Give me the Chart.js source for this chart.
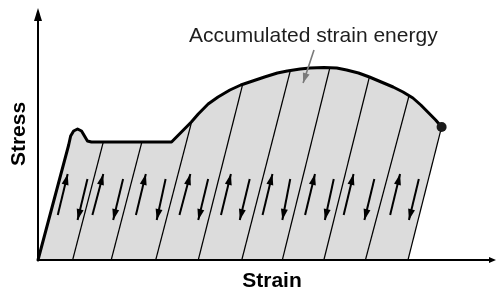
<!DOCTYPE html>
<html>
<head>
<meta charset="utf-8">
<style>
  html, body { margin: 0; padding: 0; background: #fff; }
  #wrap { width: 501px; height: 292px; }
</style>
</head>
<body>
<div id="wrap"><canvas id="stressChart"></canvas></div>

<script src="https://cdn.jsdelivr.net/npm/chart.js"></script>
<script>
// envelope of the stress-strain curve (arbitrary units)
const curveStrain = [0, 3.1, 3.3, 3.6, 4.0, 4.4, 4.7, 5.0, 5.4, 11.5, 13.5, 14.5, 15.5, 16.2, 17.2, 18.2, 19.4, 20.5, 21.7, 22.9, 24.2, 25.2, 26.5, 27.5, 28.9, 30.2, 31.2, 32.4, 33.5, 34.7, 35.9, 36.9, 37.9, 38.7, 39.5, 40.2, 40.8];
const curveStress = [0, 11.5, 12.4, 12.9, 13.1, 12.9, 12.4, 11.9, 11.8, 11.8, 11.8, 12.8, 13.8, 14.6, 15.6, 16.3, 17.0, 17.5, 17.9, 18.3, 18.7, 18.9, 19.1, 19.2, 19.25, 19.2, 19.0, 18.7, 18.3, 17.8, 17.3, 16.8, 16.2, 15.5, 14.7, 14.0, 13.3];

// unloading lines: foot on the strain axis, top on the envelope
const unloadFoot = [3.5, 7.4, 11.9, 16.2, 20.6, 24.7, 28.9, 33.1, 37.4];
const unloadTopStrain = [6.6, 10.5, 15.5, 20.7, 25.5, 29.5, 33.5, 37.5, 40.8];
const unloadTopStress = [11.8, 11.8, 13.7, 17.6, 18.9, 19.2, 18.3, 16.4, 13.3];

// loading / unloading arrows in each strip
const upTailStrain = [2.0, 5.5, 9.9, 14.3, 18.5, 22.7, 27.0, 30.9, 35.6];
const upTipStrain = [3.0, 6.6, 10.9, 15.4, 19.5, 23.7, 28.0, 31.9, 36.6];
const upTailStress = 4.5;
const upTipStress = 8.6;
const downTailStrain = [5.0, 8.6, 12.9, 17.2, 21.4, 25.5, 29.9, 34.0, 38.5];
const downTipStrain = [4.0, 7.6, 12.0, 16.2, 20.4, 24.7, 29.0, 33.0, 37.5];
const downTailStress = 8.1;
const downTipStress = 4.0;

// callout pointing at the shaded area
const noteText = "Accumulated strain energy";
const noteArrowStrain = [27.9, 26.8];
const noteArrowStress = [21.0, 17.7];

const pts = (xs, ys) => xs.map((x, i) => ({ x: x, y: ys[i] }));

const curvePts = pts(curveStrain, curveStress);
const lastFoot = unloadFoot[unloadFoot.length - 1];
const lastTop = curvePts[curvePts.length - 1];
// shaded area: envelope, down the last unloading line, then a step along the axis
// so the filler's x-bounds reach past the end of the envelope
const areaPts = curvePts.concat([{ x: lastFoot, y: 0 }, { x: lastTop.x + 0.1, y: 0 }]);

const plain = { showLine: true, pointRadius: 0, tension: 0, clip: false, fill: false };

const arrowSets = [];
upTailStrain.forEach((x, i) => {
    arrowSets.push(Object.assign({}, plain, {
        data: [{ x: x, y: upTailStress }, { x: upTipStrain[i], y: upTipStress }],
        borderColor: "#000", borderWidth: 2, arrow: { len: 11, half: 3.5, color: "#000" }
    }));
});
downTailStrain.forEach((x, i) => {
    arrowSets.push(Object.assign({}, plain, {
        data: [{ x: x, y: downTailStress }, { x: downTipStrain[i], y: downTipStress }],
        borderColor: "#000", borderWidth: 2, arrow: { len: 11, half: 3.5, color: "#000" }
    }));
});
arrowSets.push(Object.assign({}, plain, {
    data: pts(noteArrowStrain, noteArrowStress),
    borderColor: "#7a7a7a", borderWidth: 1.6, arrow: { len: 10, half: 3.5, color: "#7a7a7a" }
}));

const unloadSets = unloadFoot.map((x, i) => Object.assign({}, plain, {
    data: [{ x: x, y: 0 }, { x: unloadTopStrain[i], y: unloadTopStress[i] }],
    borderColor: "#000", borderWidth: 1.2
}));

const diagramPlugin = {
    id: "diagram",
    afterDatasetsDraw(chart) {
        const ctx = chart.ctx;
        const a = chart.chartArea;
        const sx = chart.scales.x, sy = chart.scales.y;

        function head(x1, y1, x2, y2, len, half, color) {
            const dx = x2 - x1, dy = y2 - y1;
            const d = Math.sqrt(dx * dx + dy * dy) || 1;
            const ux = dx / d, uy = dy / d;
            const bx = x2 - ux * len, by = y2 - uy * len;
            ctx.beginPath();
            ctx.moveTo(x2, y2);
            ctx.lineTo(bx - uy * half, by + ux * half);
            ctx.lineTo(bx + uy * half, by - ux * half);
            ctx.closePath();
            ctx.fillStyle = color;
            ctx.fill();
        }

        ctx.save();

        // arrowheads
        chart.data.datasets.forEach((ds, i) => {
            if (!ds.arrow) return;
            const p = chart.getDatasetMeta(i).data;
            if (p.length < 2) return;
            const p1 = p[p.length - 2], p2 = p[p.length - 1];
            head(p1.x, p1.y, p2.x, p2.y, ds.arrow.len, ds.arrow.half, ds.arrow.color);
        });

        // axes
        const x0 = sx.getPixelForValue(0);
        const y0 = sy.getPixelForValue(0);
        ctx.strokeStyle = "#000";
        ctx.lineWidth = 2;
        ctx.beginPath();
        ctx.moveTo(x0, y0 + 1);
        ctx.lineTo(x0, a.top + 10);
        ctx.moveTo(x0 - 1, y0);
        ctx.lineTo(a.right - 4, y0);
        ctx.stroke();
        head(x0, y0, x0, a.top, 13, 4, "#000");
        head(x0, y0, a.right, y0, 7, 3, "#000");

        // axis titles
        ctx.fillStyle = "#000";
        ctx.font = "bold 21px 'Liberation Sans', Arial, sans-serif";
        ctx.textAlign = "center";
        ctx.textBaseline = "alphabetic";
        ctx.fillText("Strain", a.left + 234, a.bottom + 27);
        ctx.save();
        ctx.translate(a.left - 19, a.top + 126);
        ctx.rotate(-Math.PI / 2);
        ctx.textBaseline = "middle";
        ctx.fillText("Stress", 0, 0);
        ctx.restore();

        // callout text
        ctx.fillStyle = "#1e1e1e";
        ctx.font = "21px 'Liberation Sans', Arial, sans-serif";
        ctx.textAlign = "left";
        ctx.textBaseline = "alphabetic";
        ctx.fillText(noteText, a.left + 151, a.top + 34);

        ctx.restore();
    }
};

new Chart(document.getElementById("stressChart"), {
    type: "scatter",
    data: {
        datasets: [
            ...arrowSets,
            Object.assign({}, plain, {
                showLine: false,
                data: [lastTop],
                pointRadius: 5, pointBackgroundColor: "#1a1a1a", pointBorderWidth: 0
            }),
            Object.assign({}, plain, {
                data: curvePts,
                borderColor: "#000", borderWidth: 3, borderJoinStyle: "round", borderCapStyle: "round"
            }),
            ...unloadSets,
            // shaded strain energy under the envelope
            Object.assign({}, plain, {
                data: areaPts,
                borderWidth: 0, borderColor: "rgba(0,0,0,0)",
                backgroundColor: "#dcdcdc", fill: "origin"
            })
        ]
    },
    options: {
        responsive: true,
        maintainAspectRatio: false,
        animation: false,
        events: [],
        layout: { padding: { left: 38, right: 0, top: 8, bottom: 32 } },
        plugins: { legend: { display: false }, tooltip: { enabled: false } },
        scales: {
            x: { type: "linear", display: false, min: 0, max: 46.3 },
            y: { type: "linear", display: false, min: 0, max: 25.2 }
        }
    },
    plugins: [diagramPlugin]
});
</script>
</body>
</html>
